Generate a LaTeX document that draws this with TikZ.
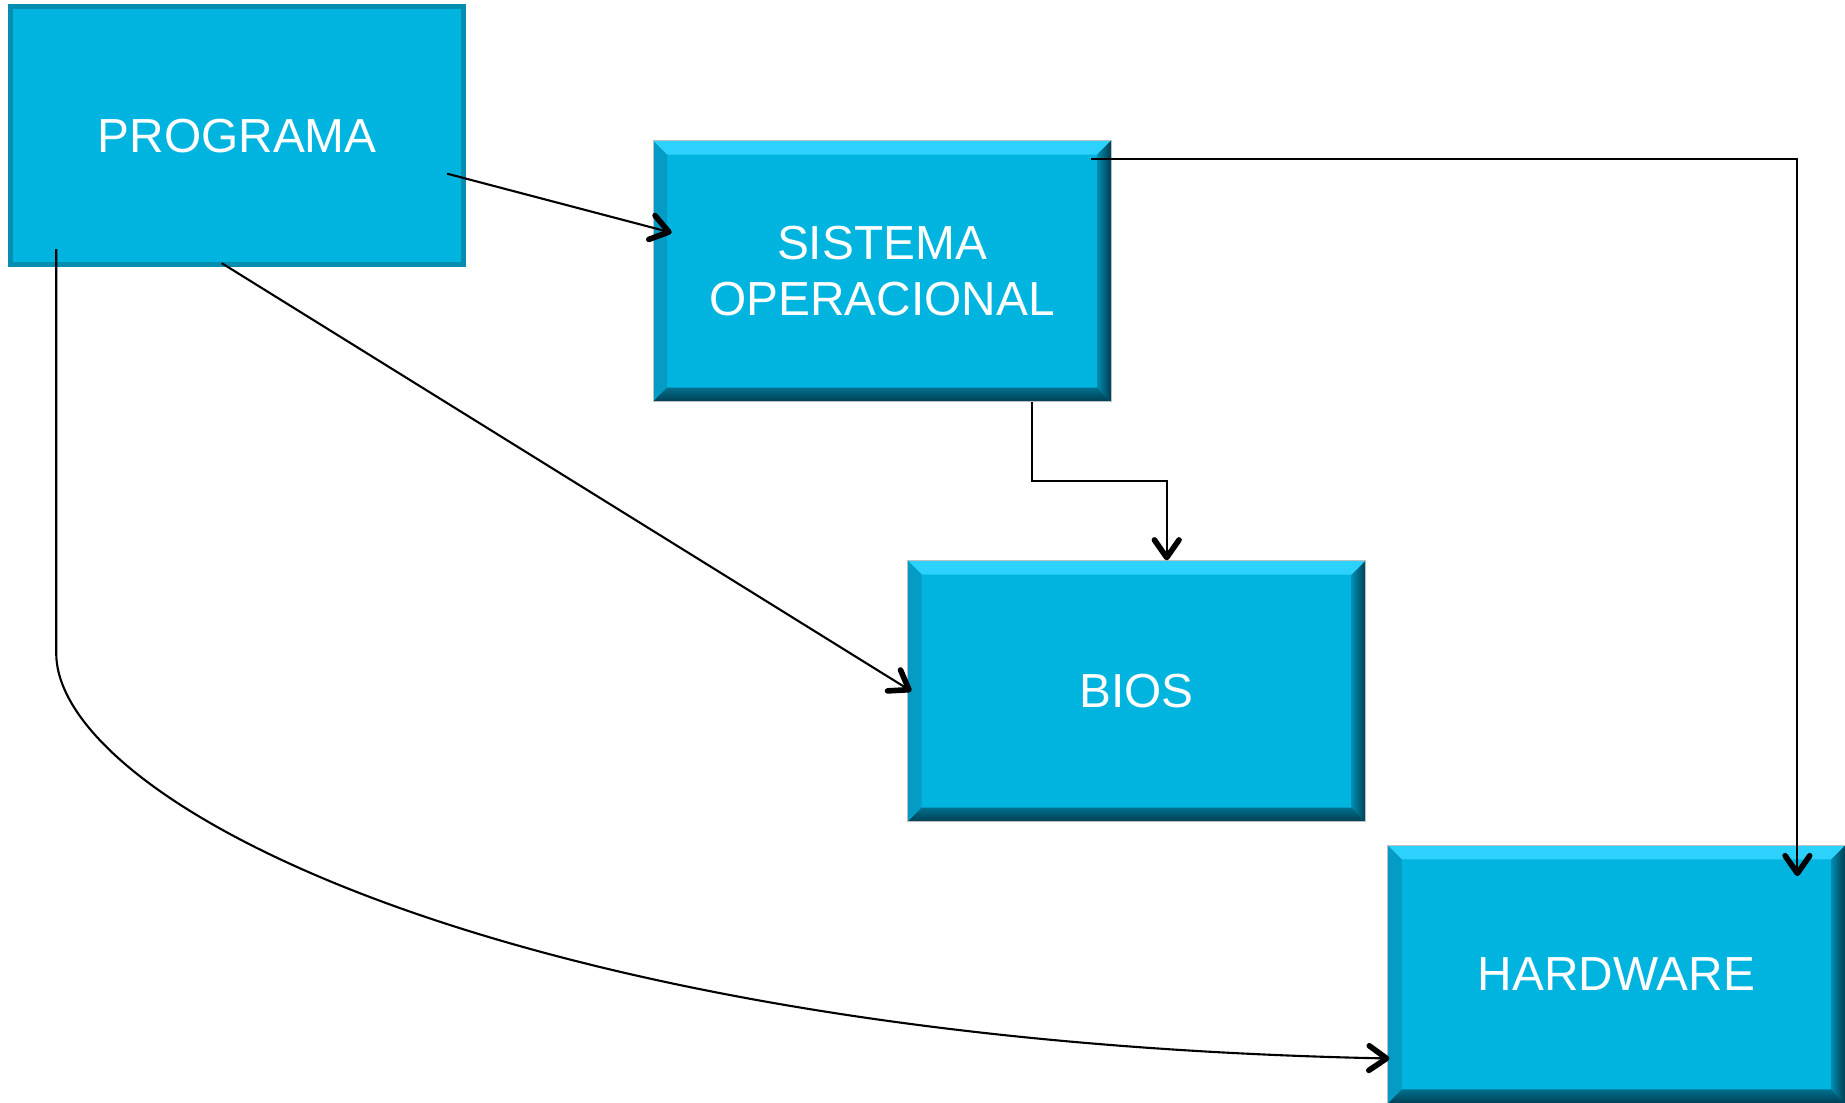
\documentclass[tikz,border=0pt]{standalone}
\usepackage{fontspec}
\setmainfont{Liberation Sans}
\usetikzlibrary{arrows.meta,calc}
\definecolor{boxcyan}{RGB}{0,180,224}
\definecolor{rimteal}{RGB}{6,142,176}
\definecolor{bevlight}{RGB}{45,210,252}
\definecolor{bevleft}{RGB}{4,156,196}
\definecolor{bevmid}{RGB}{0,140,176}
\definecolor{bevlow}{RGB}{0,112,142}
\definecolor{bevdark}{RGB}{0,62,82}
\newcommand{\bv}{0.14}
\tikzset{
  link/.style={black,line width=0.6pt,
               -{Straight Barb[length=5pt,width=7pt,line width=1.6pt,round]}},
  boxtext/.style={text=white,font=\fontsize{13.6}{16}\selectfont,align=center,inner sep=0pt},
  block/.style={boxtext,draw=rimteal,line width=1.4pt,fill=boxcyan,
                minimum width=4.53cm,minimum height=2.58cm},
  raised/.style={boxtext,fill=boxcyan,draw=black!25,line width=0.2pt,
                 minimum width=4.58cm,minimum height=2.61cm,
    path picture={
      \coordinate (bnw) at (path picture bounding box.north west);
      \coordinate (bne) at (path picture bounding box.north east);
      \coordinate (bsw) at (path picture bounding box.south west);
      \coordinate (bse) at (path picture bounding box.south east);
      \fill[bevlight] (bnw) -- (bne) -- ($(bne)+(-\bv,-\bv)$) -- ($(bnw)+(\bv,-\bv)$) -- cycle;
      \fill[bevleft] (bnw) -- ($(bnw)+(\bv,-\bv)$) -- ($(bsw)+(\bv,\bv)$) -- (bsw) -- cycle;
      \shade[left color=bevmid,right color=bevdark]
        (bne) -- (bse) -- ($(bse)+(-\bv,\bv)$) -- ($(bne)+(-\bv,-\bv)$) -- cycle;
      \shade[top color=bevlow,bottom color=bevdark]
        (bsw) -- ($(bsw)+(\bv,\bv)$) -- ($(bse)+(-\bv,\bv)$) -- (bse) -- cycle;
    }},
}

\begin{document}
\begin{tikzpicture}[x=1cm,y=1cm]
  \path[use as bounding box] (0,0) rectangle (18.45,11.03);

  \node[block]  (prog) at (2.372,9.673)  {PROGRAMA};
  \node[raised] (sis)  at (8.82,8.318)   {SISTEMA\\OPERACIONAL};
  \node[raised] (bios) at (11.367,4.118) {BIOS};
  \node[raised,minimum width=4.573cm,minimum height=2.58cm] (hw) at (16.164,1.285) {HARDWARE};

  \draw[link] ($(prog.east)+(-0.19,-0.38)$) -- ($(sis.west)+(0.19,0.385)$);
  \draw[link] ($(prog.south)+(-0.155,0.04)$) -- ($(bios.west)+(0.04,0)$);
  \draw[link] ($(sis.south)+(1.5,0)$) -- ++(0,-0.79) -| ($(bios.north)+(0.3,0)$);
  \draw[link] ($(sis.north east)+(-0.2,-0.19)$) -| ($(hw.north east)+(-0.48,-0.31)$);
  \draw[link] ($(prog.south west)+(0.48,0.18)$) -- ++(0,-4.04)
    .. controls +(0,-1.47) and +(-8.88,0.18) .. ($(hw.west)+(0.02,-0.84)$);
\end{tikzpicture}
\end{document}
